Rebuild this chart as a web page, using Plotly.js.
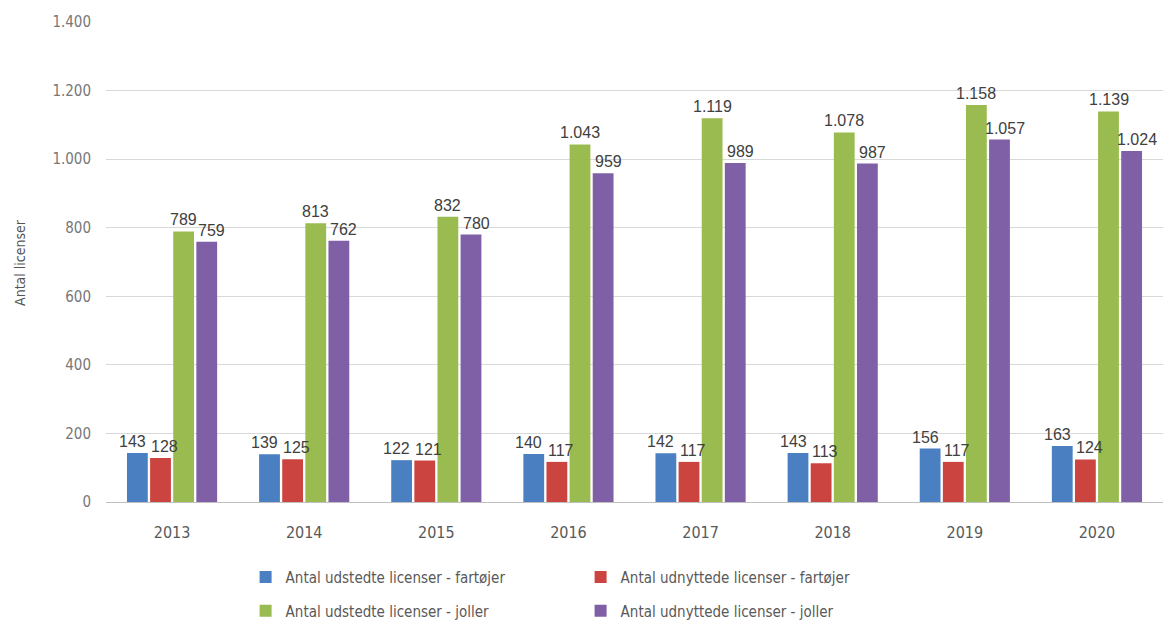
<!DOCTYPE html>
<html>
<head>
<meta charset="utf-8">
<script src="https://cdn.plot.ly/plotly-3.0.1.min.js"></script>
<style>html,body{margin:0;padding:0;background:#fff;}#chart{width:1166px;height:630px;}</style>
</head>
<body>
<div id="chart"></div>
<script>
const years = ['2013','2014','2015','2016','2017','2018','2019','2020'];
const seriesNames = [
  'Antal udstedte licenser - fartøjer',
  'Antal udnyttede licenser - fartøjer',
  'Antal udstedte licenser - joller',
  'Antal udnyttede licenser - joller'
];
const udstedteFartojer = [143,139,122,140,142,143,156,163];
const udnyttedeFartojer = [128,125,121,117,117,113,117,124];
const udstedteJoller = [789,813,832,1043,1119,1078,1158,1139];
const udnyttedeJoller = [759,762,780,959,989,987,1057,1024];
const yTicks = [0,200,400,600,800,1000,1200,1400];
const yTickText = ['0','200','400','600','800','1.000','1.200','1.400'];

const colors = ['#4a7fc1','#cc4440','#99bb4f','#7f5fa6'];
const values = [udstedteFartojer, udnyttedeFartojer, udstedteJoller, udnyttedeJoller];
const legendIds = ['legend','legend','legend2','legend2'];

const BARGAP = 0.3, GROUPGAP = 0.1;
const nSeries = values.length;
const slot = (1 - BARGAP) / nSeries;
const labelShift = [-5, 4, 0, 5];

const traces = values.map((v,i)=>({
  type:'bar', x:years, y:v, name:seriesNames[i],
  marker:{color:colors[i]},
  legend:legendIds[i]
}));

function fmt(n){ return n.toString().replace(/\B(?=(\d{3})+(?!\d))/g,'.'); }

const labelAnnots = [];
values.forEach((v,i)=>{
  const off = -(1 - BARGAP)/2 + slot*(i+0.5);
  v.forEach((val,j)=>{
    labelAnnots.push({xref:'x', yref:'y', x:j+off, y:val, text:fmt(val),
      showarrow:false, xanchor:'center', yanchor:'bottom', yshift:1, xshift:labelShift[i],
      font:{family:'Liberation Sans, Arial, sans-serif', size:16, color:'#404040'}});
  });
});

const legendBase = {orientation:'h', x:0.449, xanchor:'center', yanchor:'middle',
    entrywidth:290, font:{size:15,color:'#595959'}, traceorder:'normal',
    itemwidth:30, bgcolor:'rgba(0,0,0,0)'};

const layout = {
  width:1166, height:630,
  margin:{l:106, r:3, t:22, b:128},
  separators:',.',
  bargap:BARGAP, bargroupgap:GROUPGAP, barmode:'group',
  paper_bgcolor:'#fff', plot_bgcolor:'#fff',
  font:{family:'DejaVu Sans Condensed, Roboto, sans-serif', color:'#595959', size:15},
  xaxis:{type:'category', tickfont:{size:16, color:'#595959'}, showline:false, ticks:'', fixedrange:true, ticklabelstandoff:19},
  yaxis:{range:[0,1400], tickvals:yTicks, ticktext:yTickText, gridcolor:'#d9d9d9', gridwidth:1,
    zeroline:true, zerolinecolor:'#bfbfbf', zerolinewidth:1,
    tickfont:{size:15,color:'#777'}, ticklabelstandoff:14},
  annotations:[{text:'Antal licenser', xref:'paper', yref:'paper', x:-0.0814, y:0.5,
    xanchor:'center', yanchor:'middle', textangle:-90, showarrow:false,
    font:{size:14,color:'#555'}}].concat(labelAnnots),
  legend:Object.assign({}, legendBase, {y:-0.157}),
  legend2:Object.assign({}, legendBase, {y:-0.227}),
  showlegend:true
};
Plotly.newPlot('chart', traces, layout, {displayModeBar:false, staticPlot:true});
</script>
</body>
</html>
